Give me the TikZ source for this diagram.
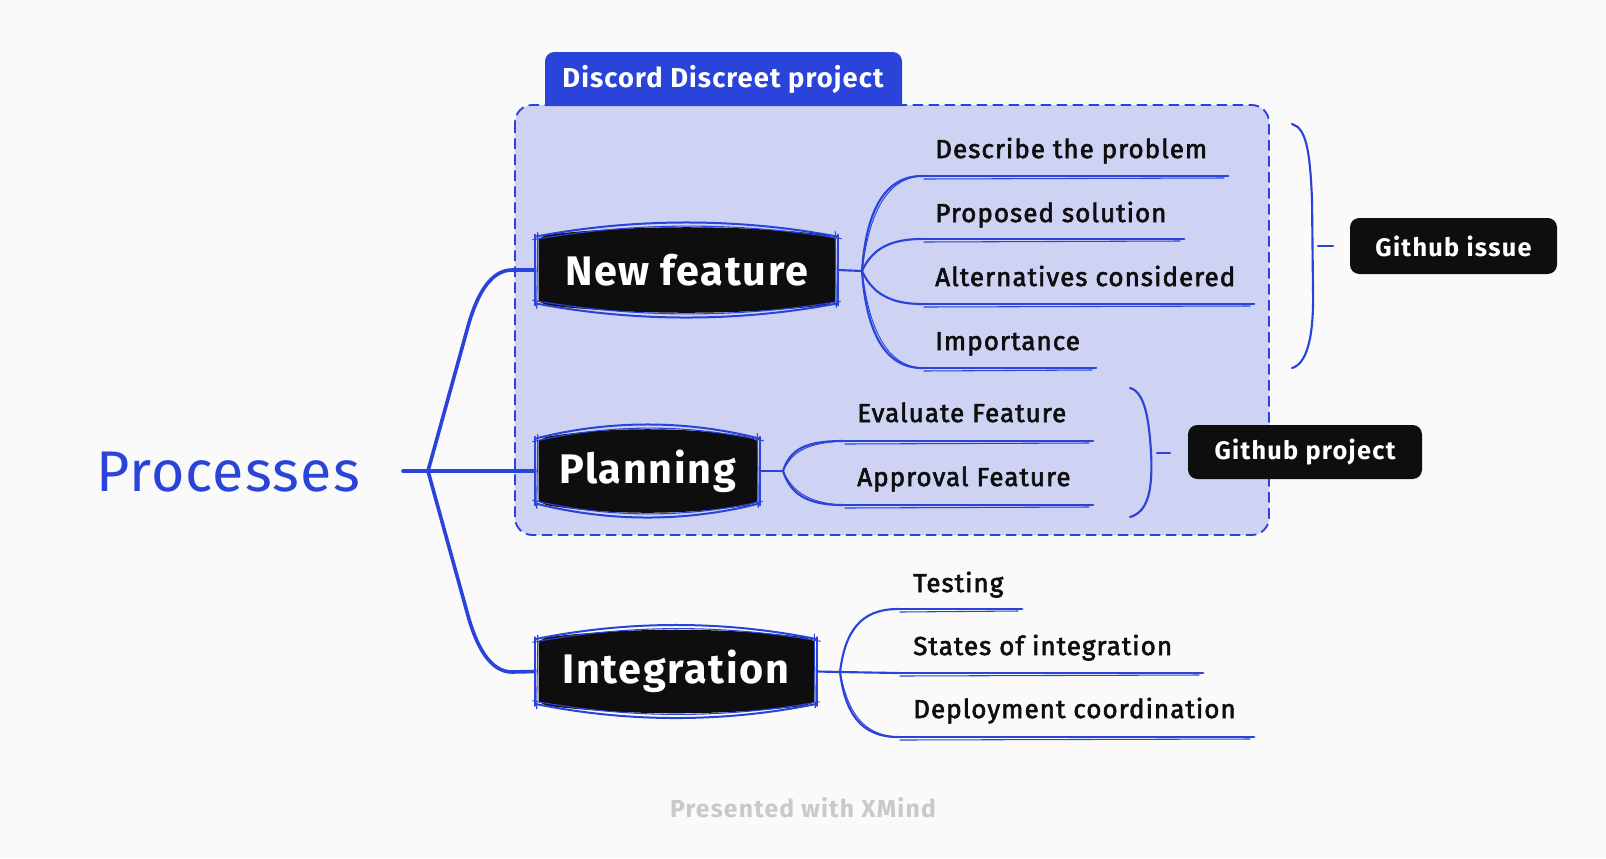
\documentclass[tikz,border=0pt]{standalone}
\usepackage{fontspec}
\usetikzlibrary{calc}
\setmainfont{Fira Sans}
\newfontfamily\fmed{Fira Sans}[FakeBold=2.3, LetterSpace=4]
\newfontfamily\fnode{Fira Sans}[LetterSpace=4]
\newfontfamily\ftag{Fira Sans}[LetterSpace=5]
\newfontfamily\flight{Fira Sans}[LetterSpace=2]
\definecolor{mblue}{HTML}{2A44DA}
\definecolor{lav}{HTML}{CED3F3}
\definecolor{bgc}{HTML}{FAFAFA}
\definecolor{nblack}{HTML}{0E0E0E}
\definecolor{gtext}{HTML}{C9C9C9}
\tikzset{
  topic/.style={inner sep=0pt, text=white, font=\fnode\bfseries\fontsize{31}{34}\selectfont},
  tag/.style={inner sep=0pt, fill=nblack, rounded corners=7pt, text=white, font=\ftag\bfseries\fontsize{19}{22}\selectfont},
  leaf/.style={inner sep=0pt, anchor=base west, text=nblack, font=\fmed\fontsize{19.5}{22}\selectfont},
  trunk/.style={draw=mblue, line width=2.7pt, line join=round, line cap=round},
  branch/.style={draw=mblue, line width=1.6pt, line cap=round},
  branchthin/.style={draw=mblue, line width=0.7pt, line cap=round},
  leafline/.style={draw=mblue, line width=2.2pt, line cap=round},
  leafthin/.style={draw=mblue, line width=0.8pt, line cap=round},
  outl/.style={draw=mblue, line width=1.5pt, line cap=round},
  outlthin/.style={draw=mblue, line width=0.8pt, line cap=round},
}
\newcommand\skbox[1]{%
  \fill[nblack] ($(#1.north west)+(4,16)$) -- ($(#1.north west)+(12,12)$)
     .. controls ($(#1.north west)!0.33!(#1.north east)+(0,2)$) and ($(#1.north west)!0.67!(#1.north east)+(0,2)$) .. ($(#1.north east)+(-12,12)$)
     -- ($(#1.north east)+(-3,16)$) -- ($(#1.south east)+(-3,-16)$) -- ($(#1.south east)+(-12,-12)$)
     .. controls ($(#1.south west)!0.67!(#1.south east)+(0,-2)$) and ($(#1.south west)!0.33!(#1.south east)+(0,-2)$) .. ($(#1.south west)+(12,-12)$)
     -- ($(#1.south west)+(4,-16)$) -- cycle;
  \draw[outl] ($(#1.north west)+(0,14)$)
     .. controls ($(#1.north west)!0.33!(#1.north east)+(0,-5)$) and ($(#1.north west)!0.67!(#1.north east)+(0,-5)$) .. ($(#1.north east)+(0,14)$);
  \draw[outlthin] ($(#1.north west)+(-2,17)$)
     .. controls ($(#1.north west)!0.33!(#1.north east)+(0,-1)$) and ($(#1.north west)!0.67!(#1.north east)+(0,-1)$) .. ($(#1.north east)+(3,16)$);
  \draw[outl] ($(#1.south west)+(0,-14)$)
     .. controls ($(#1.south west)!0.33!(#1.south east)+(0,5)$) and ($(#1.south west)!0.67!(#1.south east)+(0,5)$) .. ($(#1.south east)+(0,-14)$);
  \draw[outlthin] ($(#1.south west)+(-2,-17)$)
     .. controls ($(#1.south west)!0.33!(#1.south east)+(0,1)$) and ($(#1.south west)!0.67!(#1.south east)+(0,1)$) .. ($(#1.south east)+(2,-16)$);
  \draw[outl] ($(#1.north west)+(0,12)$) -- ($(#1.south west)+(0,-12)$);
  \draw[outlthin] ($(#1.north west)+(3,10)$) -- ($(#1.south west)+(2,-9)$);
  \draw[outl] ($(#1.north east)+(0,12)$) -- ($(#1.south east)+(0,-12)$);
  \draw[outlthin] ($(#1.north east)+(-3,9)$) -- ($(#1.south east)+(-2,-10)$);
}
\newcommand\leafseg[2]{%
  \draw[leafline] (#1) -- (#2);
  \draw[leafthin] ($(#1)+(2,3)$) -- ($(#2)+(-4,2)$);
}
\begin{document}
\begin{tikzpicture}[x=0.75pt,y=-0.75pt]
\fill[bgc] (0,0) rectangle (1606,858);
\useasboundingbox (0,0) rectangle (1606,858);

% group box
\draw[mblue, line width=1.4pt, dash pattern=on 8pt off 4pt, fill=lav, rounded corners=13pt] (515,105) rectangle (1269,535);
\fill[mblue] (545,106) [rounded corners=7pt] -- (545,52) -- (902,52) [sharp corners] -- (902,106) -- cycle;
\node[inner sep=0pt, text=white, font=\fnode\bfseries\fontsize{20.5}{24}\selectfont] (title) at (723,79) {Discord Discreet project};

% central topic
\node[inner sep=0pt, text=mblue, font=\flight\fontsize{43}{48}\selectfont] (proc) at (228,472) {Processes};

% main topics
\node[topic, minimum width=227.25pt, minimum height=70.5pt] (nf) at (686.5,270) {};
\node[topic, minimum width=168.75pt, minimum height=69pt] (pl) at (647.5,471) {};
\node[topic, minimum width=211.5pt, minimum height=69pt] (in) at (676,671.5) {};
\skbox{nf}
\skbox{pl}
\skbox{in}
\node[topic] (nft) at (nf) {New feature};
\node[topic] (plt) at (pl) {Planning};
\node[topic] (int) at (in) {Integration};

% trunk
\coordinate (t0) at (403,471);
\coordinate (f0) at (428,471);
\draw[trunk] (t0) -- (f0) -- (pl.west);
\draw[trunk] (f0) -- (467,330) .. controls (476,296) and (490,270) .. (512,270) -- (nf.west);
\draw[trunk] (f0) -- (467,612) .. controls (476,646) and (490,672) .. (512,672) -- (in.west);

% New feature leaves
\coordinate (f1) at (862,271);
\draw[branch] (nf.east) -- (f1);
\coordinate (a1) at (922,176); \coordinate (a2) at (1228,176);
\coordinate (b1) at (922,239); \coordinate (b2) at (1184,239);
\coordinate (c1) at (922,304); \coordinate (c2) at (1254,304);
\coordinate (d1) at (922,368); \coordinate (d2) at (1096,368);
\draw[branch] (f1) .. controls (866,212) and (884,176) .. (a1);
\draw[branch] (f1) .. controls (872,249) and (890,239) .. (b1);
\draw[branch] (f1) .. controls (872,293) and (890,304) .. (c1);
\draw[branch] (f1) .. controls (866,330) and (884,368) .. (d1);
\draw[branchthin] (f1) .. controls (869,214) and (886,178) .. (a1);
\draw[branchthin] (f1) .. controls (869,328) and (886,366) .. (d1);
\leafseg{a1}{a2}
\leafseg{b1}{b2}
\leafseg{c1}{c2}
\leafseg{d1}{d2}
\node[leaf] (la) at (935,158) {Describe the problem};
\node[leaf] (lb) at (935,222) {Proposed solution};
\node[leaf] (lc) at (935,286) {Alternatives considered};
\node[leaf] (ld) at (935,350) {Importance};

% Planning leaves
\coordinate (f2) at (783,471);
\draw[branch] (pl.east) -- (f2);
\coordinate (e1) at (843,441); \coordinate (e2) at (1093,441);
\coordinate (g1) at (843,505); \coordinate (g2) at (1093,505);
\draw[branch] (f2) .. controls (790,450) and (804,441) .. (e1);
\draw[branch] (f2) .. controls (790,492) and (804,505) .. (g1);
\draw[branchthin] (f2) .. controls (792,452) and (806,443) .. (e1);
\draw[branchthin] (f2) .. controls (792,490) and (806,503) .. (g1);
\leafseg{e1}{e2}
\leafseg{g1}{g2}
\node[leaf] (le) at (857,422) {Evaluate Feature};
\node[leaf] (lg) at (857,486) {Approval Feature};

% Integration leaves
\coordinate (f3) at (840,672);
\draw[branch] (in.east) -- (f3);
\coordinate (h1) at (898,609); \coordinate (h2) at (1022,609);
\coordinate (i1) at (898,673); \coordinate (i2) at (1203,673);
\coordinate (j1) at (898,737); \coordinate (j2) at (1254,737);
\draw[branch] (f3) .. controls (845,632) and (860,609) .. (h1);
\draw[branch] (f3) -- (i1);
\draw[branch] (f3) .. controls (845,712) and (860,737) .. (j1);
\draw[branchthin] (f3) .. controls (848,712) and (862,735) .. (j1);
\leafseg{h1}{h2}
\leafseg{i1}{i2}
\leafseg{j1}{j2}
\node[leaf] (lh) at (913,592) {Testing};
\node[leaf] (li) at (913,655) {States of integration};
\node[leaf] (lj) at (913,718) {Deployment coordination};

% summaries
\node[tag, minimum width=155.25pt, minimum height=42pt] (gi) at (1453.5,246) {Github issue};
\node[tag, minimum width=175.5pt, minimum height=40.5pt] (gp) at (1305,452) {Github project};
\draw[branch] (1292,124) .. controls (1306,128) and (1310,150) .. (1312,200) -- (1313,290) .. controls (1314,340) and (1306,364) .. (1292,368);
\coordinate (s1) at (1318,246); \coordinate (s2) at (1333,246);
\draw[branch] (s1) -- (s2);
\draw[branch] (1130,388) .. controls (1145,392) and (1149,420) .. (1151,452) .. controls (1153,490) and (1148,512) .. (1130,517);
\coordinate (p1) at (1157,453); \coordinate (p2) at (1170,453);
\draw[branch] (p1) -- (p2);

% footer
\node[inner sep=0pt, text=gtext, font=\ftag\bfseries\fontsize{18.5}{20}\selectfont] (foot) at (803,808) {Presented with XMind};
\end{tikzpicture}
\end{document}
